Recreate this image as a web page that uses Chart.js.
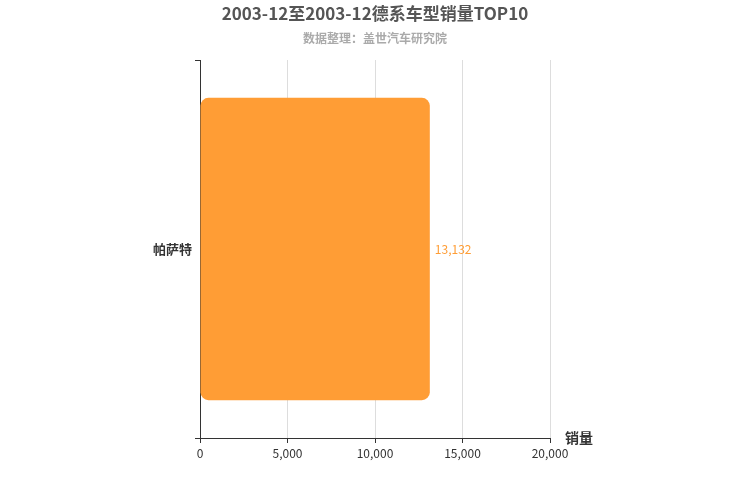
<!DOCTYPE html>
<html>
<head>
<meta charset="utf-8">
<script src="https://cdn.jsdelivr.net/npm/chart.js@4/dist/chart.umd.min.js"></script>
<style>
  html, body { margin: 0; padding: 0; background: #fff; }
  #wrap { width: 750px; height: 500px; }
</style>
</head>
<body>
<div id="wrap"><canvas id="c"></canvas></div>
<script>
// ── Data ─────────────────────────────────────────
const categories = ['帕萨特'];
const sales      = [13132];
const xTicks     = [0, 5000, 10000, 15000, 20000];

const titleText    = '2003-12至2003-12德系车型销量TOP10';
const subtitleText = '数据整理：盖世汽车研究院';
const FONT = "'Noto Sans CJK SC', 'Liberation Sans', sans-serif";

// ── Overlay: titles, value labels, axis name ─────
const overlay = {
    id: 'overlay',
    afterDraw(chart) {
        const { ctx, chartArea } = chart;
        ctx.save();
        ctx.textAlign = 'center';
        ctx.textBaseline = 'middle';
        ctx.fillStyle = '#555';
        ctx.font = 'bold 17px ' + FONT;
        ctx.fillText(titleText, 375, 14);
        ctx.fillStyle = '#aaa';
        ctx.font = 'bold 12px ' + FONT;
        ctx.fillText(subtitleText, 375, 38);

        const meta = chart.getDatasetMeta(0);
        ctx.fillStyle = '#FF9D35';
        ctx.font = '12px ' + FONT;
        ctx.textAlign = 'left';
        meta.data.forEach((bar, i) => {
            ctx.fillText(sales[i].toLocaleString('en-US'), bar.x + 5, bar.y);
        });

        ctx.fillStyle = '#333';
        ctx.font = 'bold 14px ' + FONT;
        ctx.fillText('销量', chartArea.right + 15, chartArea.bottom);
        ctx.restore();
    }
};

new Chart(document.getElementById('c'), {
    type: 'bar',
    data: {
        labels: categories,
        datasets: [{
            data: sales,
            backgroundColor: '#FF9D35',
            borderRadius: 8,
            borderSkipped: false,
            categoryPercentage: 0.8,
            barPercentage: 1
        }]
    },
    options: {
        indexAxis: 'y',
        responsive: true,
        maintainAspectRatio: false,
        animation: false,
        layout: { padding: { top: 60, right: 200, left: 0, bottom: 0 } },
        plugins: { legend: { display: false }, tooltip: { enabled: false } },
        scales: {
            x: {
                min: 0, max: 20000,
                afterBuildTicks(s) { s.ticks = xTicks.map(v => ({ value: v })); },
                afterFit(s) { s.height = 62; },
                grid: { color: '#ddd', drawTicks: true, tickLength: 5, tickColor: '#333' },
                border: { color: '#333', width: 1 },
                ticks: {
                    color: '#333', font: { size: 12, family: FONT },
                    callback: v => v.toLocaleString('en-US')
                }
            },
            y: {
                afterFit(s) { s.width = 200; },
                grid: { display: true, drawOnChartArea: false, offset: true, tickLength: 5, tickColor: '#333' },
                border: { color: '#333', width: 1 },
                ticks: { color: '#333', font: { size: 13, weight: 'bold', family: FONT } }
            }
        }
    },
    plugins: [overlay]
});
</script>
</body>
</html>
